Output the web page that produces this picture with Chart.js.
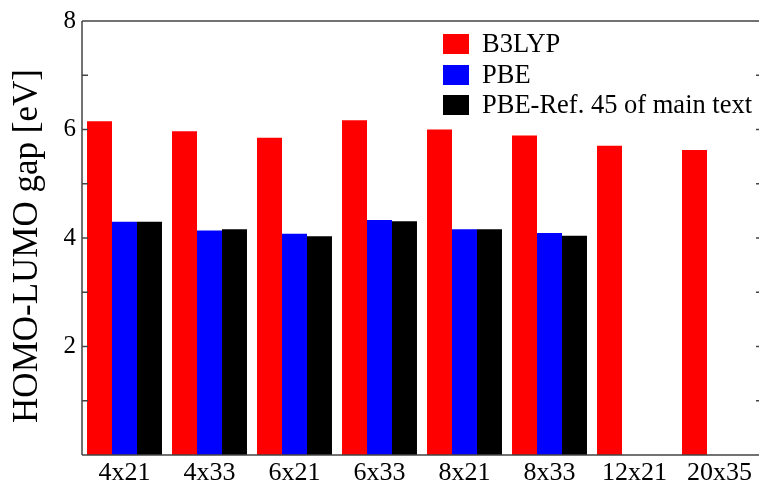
<!DOCTYPE html>
<html>
<head>
<meta charset="utf-8">
<script src="https://cdn.jsdelivr.net/npm/chart.js@4"></script>
<style>
  body { margin: 0; overflow: hidden; background: #fff; }
  #wrap { width: 765px; height: 481px; }
</style>
</head>
<body>
<div id="wrap"><canvas id="gap"></canvas></div>
<script>
// data
var sizes = ['4x21', '4x33', '6x21', '6x33', '8x21', '8x33', '12x21', '20x35'];
var b3lyp = [6.15, 5.97, 5.85, 6.17, 6.00, 5.89, 5.70, 5.62];
var pbe = [4.30, 4.14, 4.08, 4.33, 4.16, 4.09, null, null];
var pbeRef45 = [4.30, 4.16, 4.03, 4.31, 4.16, 4.04, null, null];
var yTicks = [2, 4, 6, 8];
var yTitle = 'HOMO-LUMO gap [eV]';

var serif = 'Liberation Serif';
var lineCol = '#444';

// ticks pointing inward, frame, axis title and the legend inside the plot
var framePlugin = {
  id: 'frame',
  afterDraw: function(chart) {
    var c = chart.ctx, a = chart.chartArea, y = chart.scales.y;
    c.save();
    c.strokeStyle = lineCol;
    c.lineWidth = 1.5;
    c.beginPath();
    c.moveTo(a.left, a.top); c.lineTo(a.right, a.top);
    c.moveTo(a.left, a.top); c.lineTo(a.left, a.bottom);
    c.moveTo(a.left, a.bottom); c.lineTo(a.right, a.bottom);
    for (var v = 1; v < 8; v++) {
      var py = y.getPixelForValue(v);
      c.moveTo(a.left, py); c.lineTo(a.left + 6, py);
      c.moveTo(a.right, py); c.lineTo(a.right - 6, py);
    }
    c.stroke();

    // y axis title
    c.save();
    c.translate(28, 246);
    c.rotate(-Math.PI / 2);
    c.font = '35px "' + serif + '"';
    c.fillStyle = '#000';
    c.textAlign = 'center';
    c.textBaseline = 'middle';
    c.fillText(yTitle, 0, 0);
    c.restore();

    var rows = [44, 75, 105];
    c.font = '26.5px "' + serif + '"';
    c.textBaseline = 'middle';
    chart.data.datasets.forEach(function(ds, i) {
      c.fillStyle = ds.backgroundColor;
      c.fillRect(443, rows[i] - 10, 26, 20);
      c.fillStyle = '#000';
      c.fillText(ds.label, 482, rows[i] + 1);
    });
    c.restore();
  }
};

new Chart(document.getElementById('gap'), {
  type: 'bar',
  data: {
    labels: sizes,
    datasets: [
      { label: 'B3LYP', data: b3lyp, backgroundColor: '#ff0000' },
      { label: 'PBE', data: pbe, backgroundColor: '#0000ff' },
      { label: 'PBE-Ref. 45 of main text', data: pbeRef45, backgroundColor: '#000000' }
    ]
  },
  options: {
    responsive: true,
    maintainAspectRatio: false,
    animation: false,
    layout: { padding: { top: 21, right: 3, left: 0, bottom: 0 } },
    datasets: { bar: { categoryPercentage: 0.882, barPercentage: 1.0 } },
    plugins: { legend: { display: false }, tooltip: { enabled: false } },
    scales: {
      x: {
        grid: { display: false, drawTicks: false },
        border: { display: false },
        ticks: { color: '#000', padding: 3, font: { family: serif, size: 26 } },
        afterFit: function(s) { s.height = 26; }
      },
      y: {
        min: 0,
        max: 8,
        grid: { display: false, drawTicks: false },
        border: { display: false },
        ticks: {
          stepSize: 1,
          padding: 6,
          color: '#000',
          font: { family: serif, size: 25 },
          callback: function(v) { return yTicks.indexOf(v) >= 0 ? v : ''; }
        },
        afterFit: function(s) { s.width = 82; }
      }
    }
  },
  plugins: [framePlugin]
});
</script>
</body>
</html>
